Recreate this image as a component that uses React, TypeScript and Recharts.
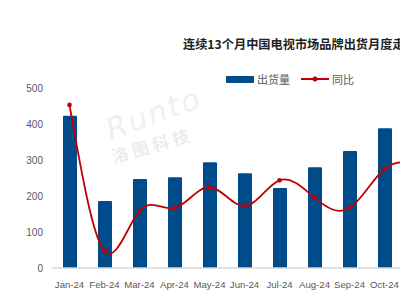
import { ComposedChart, Bar, Line, XAxis, YAxis } from "recharts";

// 13 months; only the first ten are visible in the cropped picture
const months = [
  "Jan-24", "Feb-24", "Mar-24", "Apr-24", "May-24", "Jun-24", "Jul-24",
  "Aug-24", "Sep-24", "Oct-24", "Nov-24", "Dec-24", "Jan-25",
];
const shipments = [423, 186, 247, 252, 294, 263, 222, 280, 325, 388, 360, 410, 380];
const yoy = [30.6, -50.6, -28.3, -26.7, -15, -25.6, -11.3, -20.9, -26.7, -5, -1, 4, 8];
const leftTicks = [0, 100, 200, 300, 400, 500];

const data = months.map((m, i) => ({ month: m, shipments: shipments[i], yoy: yoy[i] }));

const font = '"Noto Sans CJK SC", "Noto Sans", sans-serif';
const tickFont = '"Liberation Sans", Arial, sans-serif';
const BLUE = "#004C8A";
const RED = "#C00000";

export default function App() {
  return (
    <div
      style={{
        position: "fixed",
        left: 0,
        top: 0,
        width: 400,
        height: 300,
        overflow: "hidden",
        background: "#fff",
        fontFamily: font,
      }}
    >
      <div
        style={{
          position: "absolute",
          left: 183,
          top: 35,
          fontSize: 12.2,
          fontWeight: 700,
          color: "#222",
          whiteSpace: "nowrap",
        }}
      >
        连续13个月中国电视市场品牌出货月度走势
      </div>

      {/* watermark */}
      <div
        style={{
          position: "absolute",
          left: 104,
          top: 96,
          fontSize: 30,
          fontStyle: "italic",
          color: "#000",
          opacity: 0.06,
          transform: "rotate(-20deg)",
          fontFamily: '"DejaVu Sans", sans-serif',
          letterSpacing: 2,
        }}
      >
        Runto
      </div>
      <div
        style={{
          position: "absolute",
          left: 110,
          top: 132,
          fontSize: 17,
          fontWeight: 700,
          color: "#000",
          opacity: 0.07,
          transform: "rotate(-16deg)",
          letterSpacing: 4,
        }}
      >
        洛图科技
      </div>

      {/* legend */}
      <div
        style={{
          position: "absolute",
          left: 226,
          top: 71,
          display: "flex",
          alignItems: "center",
          fontSize: 11,
          color: "#595959",
        }}
      >
        <span style={{ width: 28, height: 7, background: BLUE, display: "inline-block", marginRight: 3, borderRadius: 1 }} />
        <span>出货量</span>
        <svg width={30} height={10} style={{ marginLeft: 10, marginRight: 2 }}>
          <line x1={1} y1={5} x2={29} y2={5} stroke={RED} strokeWidth={2} />
          <circle cx={15} cy={5} r={2.5} fill={RED} />
        </svg>
        <span>同比</span>
      </div>

      <ComposedChart
        width={507}
        height={300}
        data={data}
        barCategoryGap={0}
        margin={{ top: 88, right: 0, bottom: 0, left: 0 }}
        style={{ position: "absolute", left: 0, top: 0 }}
      >
        <XAxis
          dataKey="month"
          height={32}
          interval={0}
          tickLine={false}
          tickMargin={7}
          axisLine={{ stroke: "#D9D9D9", strokeWidth: 1.5 }}
          tick={{ fill: "#595959", fontSize: 9.6, fontFamily: tickFont }}
        />
        <YAxis
          yAxisId="left"
          width={52}
          domain={[0, 500]}
          ticks={leftTicks}
          axisLine={false}
          tickLine={false}
          tickSize={0}
          tickMargin={9}
          tick={{ fill: "#595959", fontSize: 10, fontFamily: tickFont }}
        />
        <YAxis yAxisId="right" orientation="right" hide domain={[-60, 40]} />
        <Bar
          yAxisId="left"
          dataKey="shipments"
          fill={BLUE}
          barSize={14}
          radius={[1, 1, 0, 0]}
          isAnimationActive={false}
        />
        <Line
          yAxisId="right"
          dataKey="yoy"
          type="natural"
          stroke={RED}
          strokeWidth={1.8}
          dot={{ r: 2.3, fill: RED, stroke: RED, strokeWidth: 0 }}
          isAnimationActive={false}
        />
      </ComposedChart>
    </div>
  );
}
